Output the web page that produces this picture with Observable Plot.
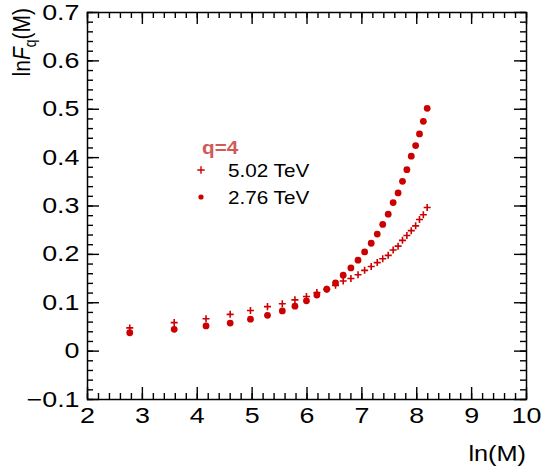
<!DOCTYPE html>
<html><head><meta charset="utf-8">
<script src="https://cdn.jsdelivr.net/npm/d3@7"></script>
<script src="https://cdn.jsdelivr.net/npm/@observablehq/plot@0.6"></script>
<style>
body{margin:0;background:#fff}
svg{font-family:"Liberation Sans",Arial,Helvetica,sans-serif}
</style>
</head><body><div id="chart"></div>
<script>
// ln(M) bins
const lnM = [2.77, 3.58, 4.16, 4.60, 4.97, 5.28, 5.55, 5.78, 5.99, 6.18, 6.36, 6.52, 6.66, 6.80, 6.93, 7.05, 7.17, 7.28, 7.38, 7.48, 7.57, 7.66, 7.74, 7.82, 7.90, 7.98, 8.05, 8.12, 8.19];
// ln F_q(M), q=4, 5.02 TeV (crosses)
const lnF502 = [0.048, 0.059, 0.067, 0.076, 0.084, 0.092, 0.098, 0.106, 0.113, 0.121, 0.128, 0.136, 0.145, 0.150, 0.158, 0.167, 0.175, 0.183, 0.191, 0.198, 0.209, 0.217, 0.229, 0.239, 0.249, 0.259, 0.272, 0.282, 0.297];
// ln F_q(M), q=4, 2.76 TeV (dots)
const lnF276 = [0.038, 0.045, 0.052, 0.058, 0.066, 0.074, 0.083, 0.093, 0.104, 0.116, 0.128, 0.141, 0.157, 0.172, 0.188, 0.205, 0.223, 0.242, 0.262, 0.283, 0.307, 0.327, 0.351, 0.375, 0.403, 0.425, 0.449, 0.475, 0.502];
const seriesNames = ["5.02 TeV", "2.76 TeV"];
const legendTitle = "q=4";
const xTicks = [2, 3, 4, 5, 6, 7, 8, 9, 10];
const yTicks = [-0.1, 0, 0.1, 0.2, 0.3, 0.4, 0.5, 0.6, 0.7];
const xMinor = d3.range(2, 10.0001, 0.2);
const yMinor = d3.range(-0.1, 0.70001, 0.02);

const d502 = lnM.map((x, i) => ({x, y: lnF502[i]}));
const d276 = lnM.map((x, i) => ({x, y: lnF276[i]}));

const W = 548, H = 475, mL = 87, mR = 22, mT = 12, mB = 76;
const iw = W - mL - mR, ih = H - mT - mB;
const red = "#cc0000";
const SX = 1.15;   // horizontal text stretch seen in the reference
const SXT = 1.22;  // stretch for tick labels
const tk = {stroke: "black", strokeWidth: 1.4};

const svg = Plot.plot({
  width: W, height: H,
  marginLeft: mL, marginRight: mR, marginTop: mT, marginBottom: mB,
  style: {background: "white", color: "black", fontSize: "22px", fontFamily: '"Liberation Sans",Arial,sans-serif'},
  x: {domain: [2, 10]},
  y: {domain: [-0.1, 0.7]},
  marks: [
    Plot.tickX(xTicks, {...tk, insetTop: ih - 12}),
    Plot.tickX(xTicks, {...tk, insetBottom: ih - 12}),
    Plot.tickX(xMinor, {...tk, insetTop: ih - 6}),
    Plot.tickX(xMinor, {...tk, insetBottom: ih - 6}),
    Plot.tickY(yTicks, {...tk, insetRight: iw - 12}),
    Plot.tickY(yTicks, {...tk, insetLeft: iw - 12}),
    Plot.tickY(yMinor, {...tk, insetRight: iw - 6}),
    Plot.tickY(yMinor, {...tk, insetLeft: iw - 6}),
    Plot.frame({stroke: "black", strokeWidth: 1.5}),
    Plot.axisX(xTicks, {tickSize: 0, tickPadding: 8, label: null, tickFormat: d => String(d), fontSize: 22}),
    Plot.axisY(yTicks, {tickSize: 0, tickPadding: 8, label: null, fontSize: 22,
      tickFormat: d => d === 0 ? "0" : (d < 0 ? "\u2212" + Math.abs(d).toFixed(1) : d.toFixed(1))}),
    Plot.dot(d276, {x: "x", y: "y", r: 3.4, fill: red, stroke: null}),
    Plot.dot(d502, {x: "x", y: "y", symbol: "plus", r: 2.4, stroke: red, strokeWidth: 1.6})
  ]
});
document.getElementById("chart").appendChild(svg);

const s = d3.select(svg);
// stretch axis tick labels horizontally about their anchor
s.selectAll('g[aria-label$="tick label"] text').each(function() {
  const t = d3.select(this);
  const tr = t.attr("transform");
  if (tr) t.attr("transform", tr + ` scale(${SXT},1)`);
  else {
    const x = +t.attr("x") || 0, y = +t.attr("y") || 0;
    t.attr("x", null).attr("y", null).attr("transform", `translate(${x},${y}) scale(${SXT},1)`);
  }
});

// x title
s.append("text").attr("transform", `translate(526,461) scale(${SX},1)`).attr("text-anchor", "end")
  .attr("font-size", 22).attr("fill", "black").text("ln(M)");
// y title
const yt = s.append("text").attr("transform", `translate(30,8) rotate(-90) scale(1,${SX})`)
  .attr("text-anchor", "end").attr("font-size", 21).attr("fill", "black");
yt.append("tspan").text("ln");
yt.append("tspan").attr("font-style", "italic").text("F");
yt.append("tspan").attr("font-size", 14).attr("dy", 5).text("q");
yt.append("tspan").attr("dy", -5).text("(M)");

// legend
s.append("text").attr("transform", `translate(202,154) scale(${SX},1)`).attr("text-anchor", "start")
  .attr("font-size", 18).attr("font-weight", "bold").attr("fill", "#d05a5a").text(legendTitle);
s.append("path").attr("d", d3.symbol(d3.symbolPlus, 20)())
  .attr("transform", "translate(201,170)").attr("fill", "none").attr("stroke", red).attr("stroke-width", 1.4);
s.append("text").attr("transform", `translate(228,177) scale(${SX},1)`).attr("text-anchor", "start")
  .attr("font-size", 18).attr("fill", "black").text(seriesNames[0]);
s.append("circle").attr("cx", 201).attr("cy", 197).attr("r", 2.6).attr("fill", red);
s.append("text").attr("transform", `translate(228,204) scale(${SX},1)`).attr("text-anchor", "start")
  .attr("font-size", 18).attr("fill", "black").text(seriesNames[1]);
</script>
</body></html>
